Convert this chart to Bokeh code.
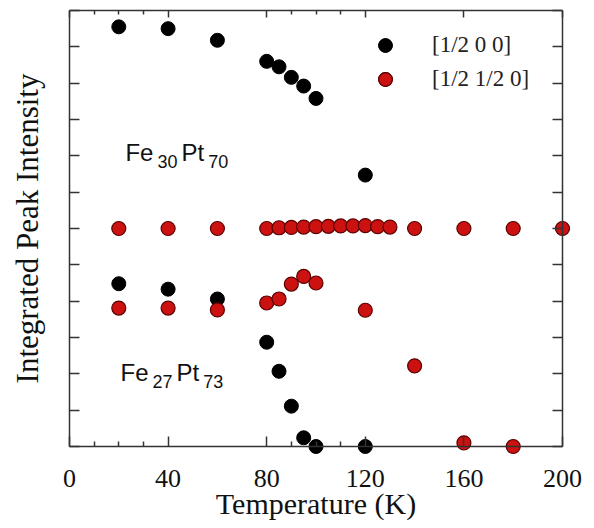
from bokeh.plotting import figure
from bokeh.models import Range1d, FixedTicker, LinearAxis, Legend, LegendItem
from bokeh.core.properties import value
from bokeh.embed import file_html
from bokeh.resources import INLINE

# ---- data ----
x_ticks = [0, 40, 80, 120, 160, 200]
x_minor = [10, 20, 30, 90, 100, 110]
y_ticks = list(range(0, 13))

t30_h00 = [20, 40, 60, 80, 85, 90, 95, 100, 120]
i30_h00 = [11.55, 11.5, 11.18, 10.6, 10.45, 10.16, 9.92, 9.58, 7.47]

t30_hh0 = [20, 40, 60, 80, 85, 90, 95, 100, 105, 110, 115, 120, 125, 130, 140, 160, 180, 200]
i30_hh0 = [6.0, 6.0, 6.0, 6.0, 6.02, 6.03, 6.04, 6.05, 6.06, 6.07, 6.07, 6.08, 6.05, 6.04, 6.0, 6.0, 6.0, 6.0]

t27_h00 = [20, 40, 60, 80, 85, 90, 95, 100, 120]
i27_h00 = [4.48, 4.33, 4.06, 2.87, 2.07, 1.11, 0.24, 0.0, 0.0]

t27_hh0 = [20, 40, 60, 80, 85, 90, 95, 100, 120, 140, 160, 180]
i27_hh0 = [3.81, 3.81, 3.76, 3.95, 4.06, 4.47, 4.68, 4.5, 3.75, 2.22, 0.1, 0.0]

legend_labels = ["[1/2 0 0]", "[1/2 1/2 0]"]

X_MIN, X_MAX = 0, 200
Y_MIN, Y_MAX = 0, 12

SERIF = "Liberation Serif"
SANS = "Liberation Sans"
AX = "#333333"
TXT = "#111111"
RED = "#cc1111"
RED_LINE = "#5a0000"

# ranges padded a little so the markers on the box edges are not cut off;
# the box itself is drawn by axes fixed at the data limits
p = figure(width=590, height=523, output_backend="svg", toolbar_location=None,
           x_range=Range1d(-3.651, 203.651), y_range=Range1d(-0.2477, 12.2477),
           min_border_left=60, min_border_right=19, min_border_top=1, min_border_bottom=68)
p.grid.visible = False
p.outline_line_color = None
p.background_fill_color = "white"
p.border_fill_color = "white"

xt = FixedTicker(ticks=x_ticks, minor_ticks=x_minor)
yt = FixedTicker(ticks=y_ticks, minor_ticks=[])

def no_ticks(ax):
    ax.axis_line_color = None
    ax.major_tick_line_color = None
    ax.minor_tick_line_color = None
    ax.major_tick_in = 0
    ax.major_tick_out = 0
    ax.minor_tick_in = 0
    ax.minor_tick_out = 0

# label-carrying axes (no lines / ticks)
xb = p.xaxis[0]
xb.ticker = xt
no_ticks(xb)
xb.major_label_text_font = SERIF
xb.major_label_text_font_size = "26px"
xb.major_label_text_color = TXT
xb.major_label_standoff = 14
xb.axis_label = "Temperature (K)"
xb.axis_label_text_font = SERIF
xb.axis_label_text_font_size = "30px"
xb.axis_label_text_font_style = "normal"
xb.axis_label_text_color = TXT
xb.axis_label_standoff = -3

yl = p.yaxis[0]
yl.ticker = yt
no_ticks(yl)
yl.major_label_text_font_size = "0px"
yl.major_label_text_color = None
yl.major_label_standoff = 0
yl.axis_label = "Integrated Peak Intensity"
yl.axis_label_text_font = SERIF
yl.axis_label_text_font_size = "31px"
yl.axis_label_text_font_style = "normal"
yl.axis_label_text_color = TXT
yl.axis_label_standoff = 16

# box axes fixed at the data limits (lines + inward ticks only)
def box_axis(loc, bounds, ticker, side, major_in, minor_in):
    ax = LinearAxis(ticker=ticker, fixed_location=loc, bounds=bounds)
    ax.axis_line_color = AX
    ax.axis_line_width = 1.5
    ax.major_tick_line_color = AX
    ax.minor_tick_line_color = AX
    ax.major_tick_line_width = 1.5
    ax.minor_tick_line_width = 1.5
    ax.major_tick_out = 0
    ax.minor_tick_out = 0
    ax.major_tick_in = major_in
    ax.minor_tick_in = minor_in
    ax.major_label_text_font_size = "0px"
    ax.major_label_text_color = None
    ax.major_label_standoff = 0
    p.add_layout(ax, side)

box_axis(Y_MIN, (X_MIN, X_MAX), xt, "below", 10, 5)
box_axis(Y_MAX, (X_MIN, X_MAX), xt, "above", 7, 4)
box_axis(X_MIN, (Y_MIN, Y_MAX), yt, "left", 10, 0)
box_axis(X_MAX, (Y_MIN, Y_MAX), yt, "right", 10, 0)

# ---- data marks ----
SZ = 14
b1 = p.scatter(t30_h00, i30_h00, size=SZ, marker="circle", fill_color="black", line_color="black")
b2 = p.scatter(t27_h00, i27_h00, size=SZ, marker="circle", fill_color="black", line_color="black")
r1 = p.scatter(t30_hh0, i30_hh0, size=SZ, marker="circle", fill_color=RED, line_color=RED_LINE, line_width=1.2)
r2 = p.scatter(t27_hh0, i27_hh0, size=SZ, marker="circle", fill_color=RED, line_color=RED_LINE, line_width=1.2)

# ---- composition labels with subscripts ----
def formula(parts, x, y):
    xo = 0
    for txt, sub in parts:
        fs = 18 if sub else 24
        p.text(x=[x], y=[y], text=[txt], x_offset=xo, y_offset=(9 if sub else 0),
               text_font=value(SANS), text_font_size=f"{fs}px", text_color=TXT,
               text_align="left", text_baseline="alphabetic")
        w = sum(0.556 if c.isdigit() else {"F": 0.611, "e": 0.556, "P": 0.667, "t": 0.278}[c] for c in txt) * fs
        xo += w + 4

formula([("Fe", False), ("30", True), ("Pt", False), ("70", True)], 22.7, 8.09)
formula([("Fe", False), ("27", True), ("Pt", False), ("73", True)], 20.7, 2.04)

legend = Legend(items=[LegendItem(label=legend_labels[0], renderers=[b1, b2]),
                       LegendItem(label=legend_labels[1], renderers=[r1, r2])],
                location=(308, 359), orientation="vertical",
                glyph_width=34, glyph_height=34, label_standoff=30, spacing=0,
                padding=0, margin=0, border_line_color=None, background_fill_alpha=0,
                label_text_font=SERIF, label_text_font_size="23px", label_text_color="#222222")
p.add_layout(legend)

open("out.html", "w").write(file_html(p, INLINE))
